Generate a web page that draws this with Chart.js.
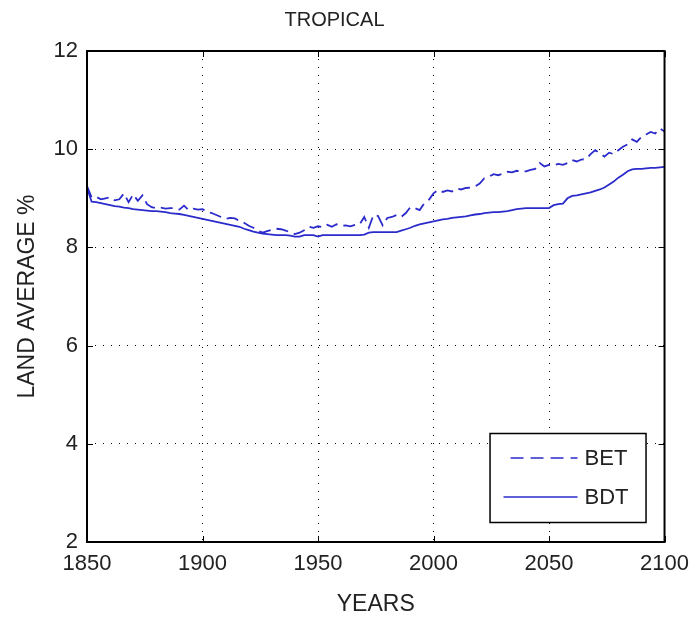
<!DOCTYPE html>
<html>
<head>
<meta charset="utf-8">
<script src="https://cdn.jsdelivr.net/npm/chart.js@4.4.1/dist/chart.umd.min.js"></script>
<style>
  html, body { margin: 0; padding: 0; background: #fff; }
  #wrap { width: 698px; height: 618px; }
</style>
</head>
<body>
<div id="wrap"><canvas id="c" width="698" height="618"></canvas></div>
<script>
// Simulation years (every second year, 1850-2100)
const years = [
  1850,1852,1854,1856,1858,1860,1862,1864,1866,1868,
  1870,1872,1874,1876,1878,1880,1882,1884,1886,1888,
  1890,1892,1894,1896,1898,1900,1902,1904,1906,1908,
  1910,1912,1914,1916,1918,1920,1922,1924,1926,1928,
  1930,1932,1934,1936,1938,1940,1942,1944,1946,1948,
  1950,1952,1954,1956,1958,1960,1962,1964,1966,1968,
  1970,1972,1974,1976,1978,1980,1982,1984,1986,1988,
  1990,1992,1994,1996,1998,2000,2002,2004,2006,2008,
  2010,2012,2014,2016,2018,2020,2022,2024,2026,2028,
  2030,2032,2034,2036,2038,2040,2042,2044,2046,2048,
  2050,2052,2054,2056,2058,2060,2062,2064,2066,2068,
  2070,2072,2074,2076,2078,2080,2082,2084,2086,2088,
  2090,2092,2094,2096,2098,2100
];

// Broadleaf evergreen tropical cover, land average %
const betValues = [
  9.25,9.02,9.03,8.98,9.00,9.02,8.96,8.98,9.10,8.92,
  9.08,8.95,9.06,8.88,8.82,8.80,8.81,8.79,8.80,8.80,
  8.77,8.85,8.76,8.79,8.77,8.78,8.72,8.70,8.66,8.62,
  8.58,8.60,8.59,8.54,8.50,8.44,8.40,8.34,8.30,8.33,
  8.36,8.38,8.37,8.34,8.31,8.27,8.30,8.35,8.42,8.40,
  8.43,8.41,8.46,8.42,8.47,8.44,8.45,8.43,8.46,8.47,
  8.62,8.40,8.66,8.64,8.45,8.60,8.62,8.66,8.62,8.70,
  8.82,8.80,8.76,8.90,8.97,9.10,9.17,9.13,9.16,9.14,
  9.20,9.18,9.21,9.22,9.24,9.30,9.41,9.44,9.49,9.47,
  9.50,9.54,9.53,9.56,9.54,9.55,9.58,9.60,9.72,9.65,
  9.68,9.67,9.70,9.68,9.72,9.78,9.75,9.79,9.80,9.90,
  9.98,9.92,9.85,9.93,9.90,9.98,10.05,10.10,10.20,10.15,
  10.25,10.30,10.35,10.32,10.42,10.36
];

// Broadleaf deciduous tropical cover, land average %
const bdtValues = [
  9.22,8.93,8.92,8.90,8.88,8.86,8.84,8.83,8.81,8.80,
  8.78,8.77,8.76,8.75,8.74,8.74,8.73,8.72,8.70,8.69,
  8.68,8.66,8.64,8.62,8.60,8.58,8.56,8.54,8.52,8.50,
  8.48,8.46,8.44,8.42,8.38,8.35,8.32,8.30,8.28,8.27,
  8.26,8.25,8.25,8.25,8.24,8.22,8.22,8.25,8.25,8.25,
  8.22,8.25,8.25,8.25,8.25,8.25,8.25,8.25,8.25,8.25,
  8.26,8.30,8.31,8.31,8.31,8.31,8.31,8.31,8.34,8.37,
  8.40,8.44,8.47,8.49,8.51,8.53,8.55,8.57,8.58,8.60,
  8.61,8.62,8.63,8.65,8.67,8.68,8.70,8.71,8.72,8.72,
  8.73,8.74,8.76,8.78,8.79,8.80,8.80,8.80,8.80,8.80,
  8.80,8.86,8.88,8.89,9.00,9.05,9.06,9.08,9.10,9.12,
  9.15,9.18,9.22,9.28,9.34,9.42,9.48,9.55,9.59,9.60,
  9.60,9.61,9.62,9.62,9.63,9.64
];

const seriesNames = ['BET', 'BDT'];
const xTicks = [1850, 1900, 1950, 2000, 2050, 2100];
const yTicks = [2, 4, 6, 8, 10, 12];

const LINE_BLUE = '#2b2bcc';
const FONT = '"Liberation Sans", Arial, sans-serif';

const toPoints = vals => years.map((y, i) => ({ x: y, y: vals[i] }));

// Frame, inward tick marks and the boxed legend
const framePlugin = {
  id: 'frame',
  afterDatasetsDraw(chart) {
    const { ctx, chartArea: a, scales } = chart;
    ctx.save();
    ctx.strokeStyle = '#000';
    ctx.lineWidth = 1;
    ctx.beginPath();
    xTicks.forEach(v => {
      const px = Math.round(scales.x.getPixelForValue(v)) + 0.5;
      ctx.moveTo(px, a.bottom); ctx.lineTo(px, a.bottom - 6);
      ctx.moveTo(px, a.top); ctx.lineTo(px, a.top + 6);
    });
    yTicks.forEach(v => {
      const py = Math.round(scales.y.getPixelForValue(v)) + 0.5;
      ctx.moveTo(a.left, py); ctx.lineTo(a.left + 6, py);
      ctx.moveTo(a.right, py); ctx.lineTo(a.right - 6, py);
    });
    ctx.stroke();
    ctx.lineWidth = 2;
    ctx.strokeRect(a.left, a.top, a.right - a.left, a.bottom - a.top);

    // legend box, anchored to the lower right corner of the plot
    const w = 156, h = 89;
    const lx = a.right - 19 - w, ly = a.bottom - 20 - h;
    ctx.fillStyle = '#fff';
    ctx.fillRect(lx, ly, w, h);
    ctx.lineWidth = 1.5;
    ctx.strokeRect(lx + 0.5, ly + 0.5, w, h);
    const rows = [
      { name: seriesNames[0], dash: [13, 7], y: ly + 25, x0: lx + 21 },
      { name: seriesNames[1], dash: [], y: ly + 64, x0: lx + 14 }
    ];
    rows.forEach(r => {
      ctx.strokeStyle = LINE_BLUE;
      ctx.lineWidth = 1.5;
      ctx.setLineDash(r.dash);
      ctx.beginPath();
      ctx.moveTo(r.x0, r.y); ctx.lineTo(lx + 88, r.y);
      ctx.stroke();
      ctx.setLineDash([]);
      ctx.fillStyle = '#222';
      ctx.font = '22px ' + FONT;
      ctx.textBaseline = 'middle';
      ctx.textAlign = 'left';
      ctx.fillText(r.name, lx + 95, r.y + 1);
    });
    ctx.restore();
  }
};

new Chart(document.getElementById('c'), {
  type: 'line',
  data: {
    datasets: [
      {
        label: seriesNames[0],
        data: toPoints(betValues),
        borderColor: LINE_BLUE,
        borderWidth: 1.8,
        borderDash: [12, 6],
        pointRadius: 0,
        tension: 0,
        fill: false
      },
      {
        label: seriesNames[1],
        data: toPoints(bdtValues),
        borderColor: LINE_BLUE,
        borderWidth: 1.8,
        pointRadius: 0,
        tension: 0,
        fill: false
      }
    ]
  },
  options: {
    responsive: false,
    animation: false,
    events: [],
    layout: { padding: { left: 0, right: 29, top: 0, bottom: 0 } },
    plugins: {
      legend: { display: false },
      tooltip: { enabled: false },
      title: {
        display: true,
        text: 'TROPICAL',
        color: '#222',
        font: { family: FONT, size: 20, weight: 'normal', lineHeight: 1.2 },
        padding: { top: 8, bottom: 19 }
      }
    },
    scales: {
      x: {
        type: 'linear',
        min: 1850,
        max: 2100,
        afterFit(s) { s.height = 76; },
        afterBuildTicks(s) { s.ticks = xTicks.map(v => ({ value: v })); },
        ticks: {
          color: '#222',
          padding: 9,
          maxRotation: 0,
          font: { family: FONT, size: 22 },
          callback: v => String(v)
        },
        grid: {
          color: ctx => (ctx.tick && (ctx.tick.value === 1850 || ctx.tick.value === 2100)) ? 'rgba(0,0,0,0)' : '#000',
          lineWidth: 1,
          tickLength: 0,
          drawTicks: false
        },
        border: { display: false, dash: [1, 7] },
        title: {
          display: true,
          text: 'YEARS',
          color: '#222',
          font: { family: FONT, size: 23, lineHeight: 1.2 },
          padding: { top: 0, bottom: 0 }
        }
      },
      y: {
        type: 'linear',
        min: 2,
        max: 12,
        afterFit(s) { s.width = 87; },
        afterBuildTicks(s) { s.ticks = yTicks.map(v => ({ value: v })); },
        ticks: {
          color: '#222',
          padding: 9,
          font: { family: FONT, size: 22 },
          callback: v => String(v)
        },
        grid: {
          color: ctx => (ctx.tick && (ctx.tick.value === 2 || ctx.tick.value === 12)) ? 'rgba(0,0,0,0)' : '#000',
          lineWidth: 1,
          tickLength: 0,
          drawTicks: false
        },
        border: { display: false, dash: [1, 7] },
        title: {
          display: true,
          text: 'LAND AVERAGE %',
          color: '#222',
          font: { family: FONT, size: 23, lineHeight: 1.2 },
          padding: { top: 14, bottom: 0 }
        }
      }
    }
  },
  plugins: [framePlugin]
});
</script>
</body>
</html>
